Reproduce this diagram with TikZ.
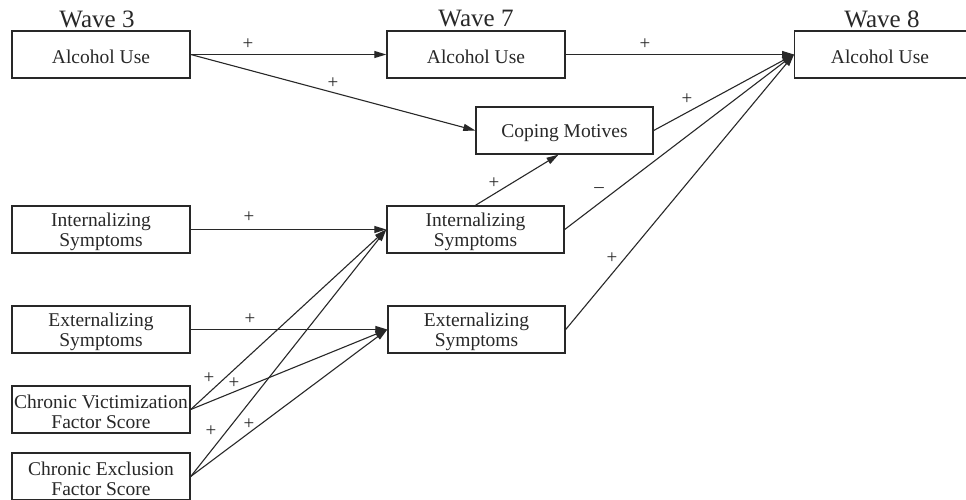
\documentclass[tikz,border=0pt]{standalone}
\usepackage{fontspec}
\setmainfont{Liberation Serif}
\usetikzlibrary{arrows.meta}
\definecolor{ink}{RGB}{40,40,40}
\tikzset{
  box/.style={draw=ink, line width=1.4pt, minimum width=178pt, minimum height=47pt, inner sep=0pt},
  boxtext/.style={inner sep=0pt, align=center, font=\fontsize{19.5}{20.5}\selectfont, text=ink},
  wave/.style={font=\fontsize{25}{26}\selectfont, text=ink, inner sep=0pt},
  sign/.style={font=\fontsize{19}{19}\selectfont, text=ink, inner sep=0pt},
  path/.style={draw=ink, line width=1.1pt, -{Triangle[length=12pt,width=7pt]}},
}
\newcommand\mybox[4][]{%
  \node[box,#1] (#2) at (#3) {};
  \node[boxtext] (#2-t) at ([yshift=-2.5pt]#2.center) {#4};}
\begin{document}
\begin{tikzpicture}[x=1pt,y=-1pt]
\useasboundingbox (0,0) rectangle (966,500);
\fill[white] (0,0) rectangle (966,500);
% titles
\node[wave] (w3) at (97,19) {Wave 3};
\node[wave] (w7) at (476,19) {Wave 7};
\node[wave] (w8) at (882,19) {Wave 8};
% wave 3
\mybox{au3}{101,54.5}{Alcohol Use}
\mybox{in3}{101,229.5}{Internalizing\\Symptoms}
\mybox{ex3}{101,329.5}{Externalizing\\Symptoms}
\mybox{cv}{101,409.5}{Chronic Victimization\\Factor Score}
\mybox{ce}{101,476.5}{Chronic Exclusion\\Factor Score}
% wave 7
\mybox{au7}{476,54.5}{Alcohol Use}
\mybox[minimum width=177pt]{cm}{564.5,130.5}{Coping Motives}
\mybox[minimum width=177pt]{in7}{475.5,229.5}{Internalizing\\Symptoms}
\mybox[minimum width=177pt]{ex7}{476.5,329.5}{Externalizing\\Symptoms}
% wave 8
\node[box, minimum width=180pt, anchor=west] (au8) at (794,54.5) {};
\node[boxtext] (au8-t) at ([yshift=-2.5pt]880,54.5) {Alcohol Use};
% connectors
\draw[path] (au3.east) -- (au7.west);
\draw[path] (au3.east) -- (cm.west);
\draw[path] (au7.east) -- (au8.west);
\draw[path] (cm.east) -- (au8.west);
\draw[path] (in7.east) -- (au8.west);
\draw[path] (ex7.east) -- (au8.west);
\draw[path] (in7.north) -- ([xshift=-6pt]cm.south);
\draw[path] (in3.east) -- (in7.west);
\draw[path] (ex3.east) -- (ex7.west);
\draw[path] (cv.east) -- (in7.west);
\draw[path] (cv.east) -- (ex7.west);
\draw[path] (ce.east) -- (in7.west);
\draw[path] (ce.east) -- (ex7.west);
% signs
\node[sign] (s1) at (248,44) {+};
\node[sign] (s2) at (333,83) {+};
\node[sign] (s3) at (645,44) {+};
\node[sign] (s4) at (687,99) {+};
\node[sign] (s5) at (599,190) {--};
\node[sign] (s6) at (612,258) {+};
\node[sign] (s7) at (494,183) {+};
\node[sign] (s8) at (249,217) {+};
\node[sign] (s9) at (250,319) {+};
\node[sign] (s10) at (209,378) {+};
\node[sign] (s11) at (234,383) {+};
\node[sign] (s12) at (211,431) {+};
\node[sign] (s13) at (249,424) {+};
\end{tikzpicture}
\end{document}
